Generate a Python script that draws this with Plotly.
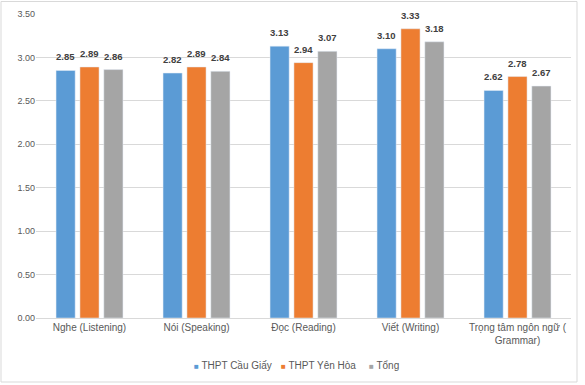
import plotly.graph_objects as go

categories = ["Nghe (Listening)", "Nói (Speaking)", "Đọc (Reading)", "Viết (Writing)",
              "Trọng tâm ngôn ngữ (<br>Grammar)"]
cau_giay = [2.85, 2.82, 3.13, 3.10, 2.62]
yen_hoa = [2.89, 2.89, 2.94, 3.33, 2.78]
tong = [2.86, 2.84, 3.07, 3.18, 2.67]
series_names = ["THPT Cầu Giấy", "THPT Yên Hòa", "Tổng"]
colors = ["#5B9BD5", "#ED7D31", "#A5A5A5"]

L, R, T, B = 36, 14, 14, 67
W, H = 585, 385
PW, PH = W - L - R, H - T - B
BARGAP = 0.33

def px(x):
    return (x - L) / PW

def py(y):
    return (H - B - y) / PH

fig = go.Figure()
all_series = [cau_giay, yen_hoa, tong]
for name, vals, col in zip(series_names, all_series, colors):
    fig.add_trace(go.Bar(x=categories, y=vals, name=name, marker_color=col))

slot = PW / len(categories) * (1 - BARGAP) / len(all_series)
annotations = []
for si, vals in enumerate(all_series):
    for cat, v in zip(categories, vals):
        annotations.append(dict(
            x=cat, y=v, xref="x", yref="y", showarrow=False,
            xshift=(si - 1) * slot, yshift=6, yanchor="bottom", xanchor="center",
            text=f"<b>{v:.2f}</b>",
            font=dict(size=9.5, color="#404040", family="Liberation Sans"),
        ))

legend_x = [192, 279, 367]
for name, col, lx in zip(series_names, colors, legend_x):
    annotations.append(dict(
        xref="paper", yref="paper", x=px(lx), y=py(365), xanchor="left", yanchor="middle",
        showarrow=False,
        text=f"<span style='color:{col};font-size:8px'>■</span> {name}",
        font=dict(size=10, color="#595959", family="Liberation Sans"),
    ))

fig.update_layout(
    width=W, height=H,
    margin=dict(l=L, r=R, t=T, b=B),
    barmode="group", bargap=BARGAP, bargroupgap=0.2,
    plot_bgcolor="white", paper_bgcolor="white",
    font=dict(family="Liberation Sans", size=10, color="#595959"),
    showlegend=False,
    yaxis=dict(range=[0, 3.5], dtick=0.5, tickformat=".2f", showgrid=True,
               gridcolor="#D9D9D9", gridwidth=1, zeroline=False, ticks="",
               automargin=False, tickfont=dict(size=9, color="#595959")),
    xaxis=dict(showline=True, linecolor="#D9D9D9", linewidth=1, ticks="",
               automargin=False, tickfont=dict(size=10, color="#595959")),
    annotations=annotations,
    shapes=[dict(type="rect", xref="paper", yref="paper", x0=px(1), x1=px(577),
                 y0=py(382), y1=py(1.5), line=dict(color="#D9D9D9", width=1))],
)

fig.write_html("out.html", config={"displayModeBar": False},
               post_script="document.body.style.margin='0';document.body.style.overflow='hidden';")
